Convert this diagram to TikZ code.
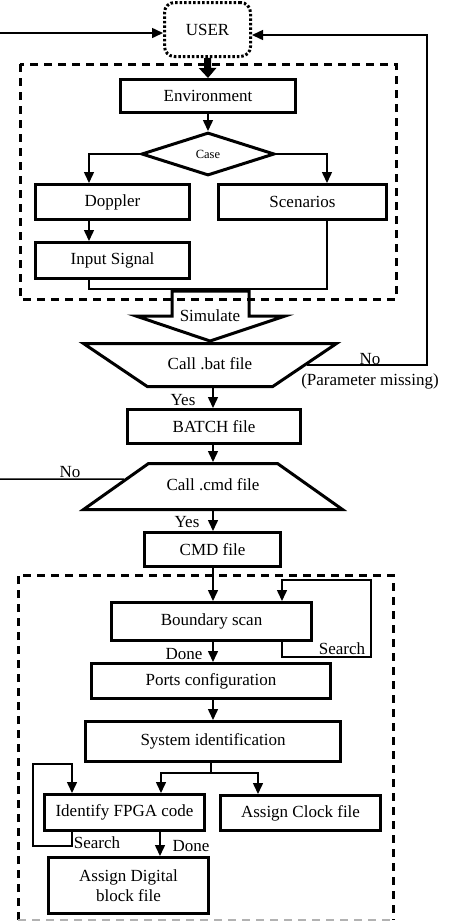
\documentclass[tikz,border=0pt]{standalone}
\usepackage{fontspec}
\setmainfont{Liberation Serif}
\usetikzlibrary{shapes.geometric,arrows.meta,calc}
\tikzset{
  boxAll/.style={draw, line width=3pt, inner sep=2pt, align=center, font=\fontsize{17}{20}\selectfont},
  userBox/.style={draw, line width=3pt, dash pattern=on 2.5pt off 2pt, rounded corners=10pt, minimum width=86pt, minimum height=54pt, font=\fontsize{17}{20}\selectfont},
  caseDia/.style={draw, diamond, line width=3pt, aspect=3, inner sep=0pt, minimum width=133pt, minimum height=43pt, font=\fontsize{12.5}{14}\selectfont},
  callTrap/.style={draw, trapezium, line width=3pt, text height=12pt, text depth=4pt, font=\fontsize{17}{20}\selectfont},
  dashBox/.style={line width=3pt, dash pattern=on 8pt off 6pt},
  flow/.style={line width=1.5pt, -{Triangle[width=10pt,length=11pt]}},
  link/.style={line width=1.5pt},
  lbl/.style={font=\fontsize{17}{20}\selectfont, inner sep=0pt}
}

\begin{document}
\begin{tikzpicture}[x=1pt, y=-1pt]
  \useasboundingbox (0,0) rectangle (474,922);

  % dashed groups
  \draw[dashBox] (20,64) rectangle (396,299);
  \draw[dashBox] (18,920) -- (18,575) -- (393,575) -- (393,920);
  \draw[dashBox, gray!60, line width=2pt] (18,920) -- (393,920);

  \node[userBox] (user) at (207.5,29.5) {USER};
  \node[boxAll, minimum width=175pt, minimum height=33pt] (env) at (208,96) {Environment};
  \node[caseDia] (case) at (208,154) {Case};
  \node[boxAll, minimum width=154pt, minimum height=35pt] (doppler) at (112.5,202) {Doppler};
  \node[boxAll, minimum width=168pt, minimum height=35pt] (scen) at (302.5,202) {Scenarios};
  \node[boxAll, minimum width=154pt, minimum height=36pt] (input) at (112.5,260.5) {Input Signal};
  \node[lbl] (sim) at (210,316) {Simulate};
  \node[callTrap, shape border rotate=180, inner xsep=20.5pt, inner ysep=13.5pt,
        trapezium left angle=34, trapezium right angle=34] (bat) at (210,365) {Call .bat file};
  \node[boxAll, minimum width=173pt, minimum height=34pt] (batch) at (214,426.5) {BATCH file};
  \node[callTrap, inner xsep=18pt, inner ysep=15pt,
        trapezium left angle=35.3, trapezium right angle=35.3] (cmd) at (213,486.5) {Call .cmd file};
  \node[boxAll, minimum width=136pt, minimum height=34pt] (cmdfile) at (212.5,549.5) {CMD file};
  \node[boxAll, minimum width=200pt, minimum height=38pt] (boundary) at (211.5,621.5) {Boundary scan};
  \node[boxAll, minimum width=239pt, minimum height=35pt] (ports) at (211,681) {Ports configuration};
  \node[boxAll, minimum width=255pt, minimum height=40pt] (sysid) at (213,741.5) {System identification};
  \node[boxAll, minimum width=160pt, minimum height=36pt] (fpga) at (124.5,812.5) {Identify FPGA code};
  \node[boxAll, minimum width=160pt, minimum height=35pt] (clock) at (300.5,813) {Assign Clock file};
  \node[boxAll, minimum width=160pt, minimum height=56pt] (digital) at (128.5,885.5) {Assign Digital\\block file};

  % labels
  \node[lbl] (noBat) at (370,359) {No};
  \node[lbl] (missing) at (370,381) {(Parameter missing)};
  \node[lbl] (yesBat) at (183,400) {Yes};
  \node[lbl] (noCmd) at (70,472) {No};
  \node[lbl] (yesCmd) at (187,522) {Yes};
  \node[lbl] (doneScan) at (184,654) {Done};
  \node[lbl] (searchScan) at (342,649) {Search};
  \node[lbl] (searchFpga) at (97,843) {Search};
  \node[lbl] (doneFpga) at (191,846) {Done};

  \coordinate (outL) at (0,33);
  \coordinate (outR) at (427,35);
  \coordinate (outC) at (0,479);
  \coordinate (colL) at (89,0);
  \coordinate (colR) at (327,0);
  \coordinate (colM) at (213,0);
  \coordinate (colD) at (160,0);
  \coordinate (mergeC) at (210,289);
  \coordinate (loopA) at (282,657);
  \coordinate (loopB) at (371,580);
  \coordinate (split) at (211,773);
  \coordinate (fpgaIn) at (161,0);
  \coordinate (clockIn) at (258,0);
  \coordinate (loopC) at (72,846);
  \coordinate (loopD) at (33,764);

  % simulate arrow
  \draw[line width=3pt] (172,291) -- (172,316) -- (136,316) -- (210,341) -- (285,316) -- (249,316) -- (249,291) -- cycle;

  \draw[line width=7pt, -{Triangle[width=17pt,length=10pt]}] (user.south) -- (env.north);
  \draw[flow] (outL) -- (outL -| user.west);
  \draw[flow] (bat.east) -- (bat.east -| outR) -- (outR) -- (outR -| user.east);
  \draw[link] ($(cmd.top left corner)!0.35!(cmd.bottom left corner)$) -- (outC);

  \draw[flow] (env.south) -- (case.north);
  \draw[flow] (case.west) -| (colL |- doppler.north);
  \draw[flow] (case.east) -| (colR |- scen.north);
  \draw[flow] (colL |- doppler.south) -- (colL |- input.north);
  \draw[link] (colL |- input.south) |- (mergeC) -| (colR |- scen.south);

  \draw[flow] (colM |- bat.south) -- (colM |- batch.north);
  \draw[flow] (colM |- batch.south) -- (colM |- cmd.north);
  \draw[flow] (colM |- cmd.south) -- (colM |- cmdfile.north);
  \draw[flow] (colM |- cmdfile.south) -- (colM |- boundary.north);
  \draw[flow] (boundary.south -| loopA) -- (loopA) -| (loopB) -- (loopB -| loopA) -- (boundary.north -| loopA);
  \draw[flow] (colM |- boundary.south) -- (colM |- ports.north);
  \draw[flow] (colM |- ports.south) -- (colM |- sysid.north);

  \draw[link] (split |- sysid.south) -- (split);
  \draw[flow] (split) -| (fpgaIn |- fpga.north);
  \draw[flow] (split) -| (clockIn |- clock.north);
  \draw[flow] (fpga.south -| loopC) -- (loopC) -| (loopD) -- (loopD -| loopC) -- (fpga.north -| loopC);
  \draw[flow] (colD |- fpga.south) -- (colD |- digital.north);
\end{tikzpicture}
\end{document}
